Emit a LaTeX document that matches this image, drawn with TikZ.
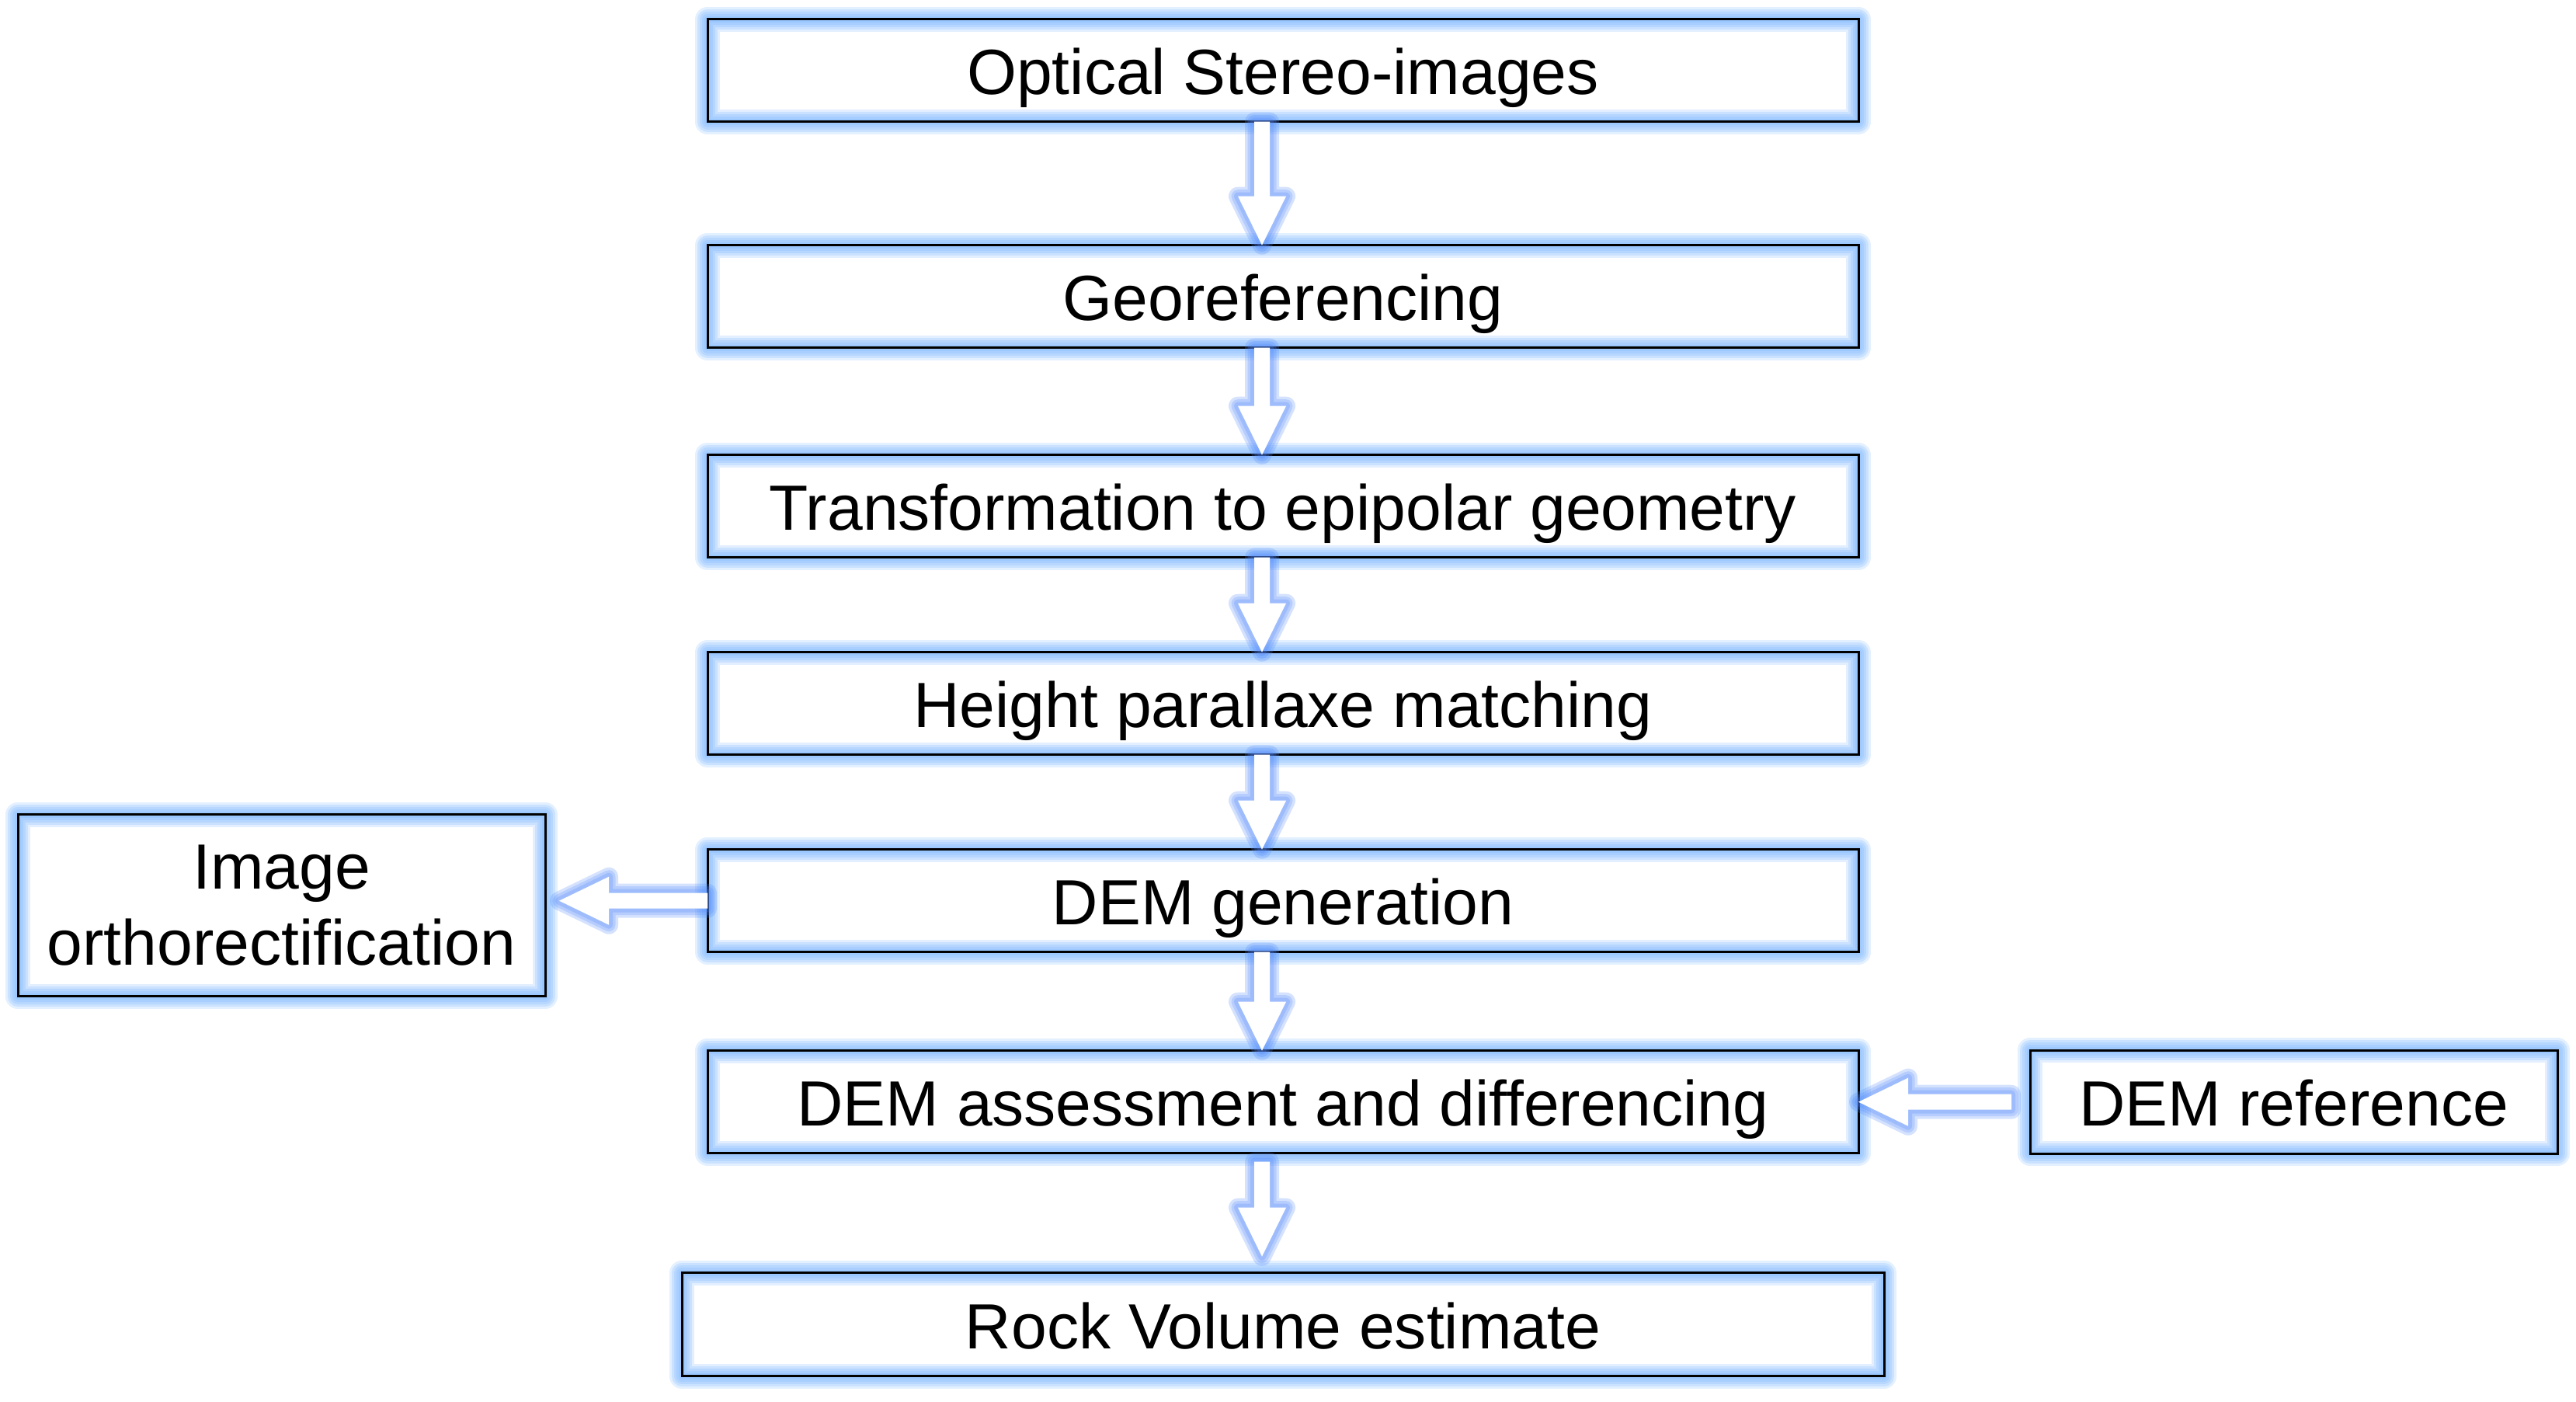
\documentclass[tikz,border=0pt]{standalone}
\usepackage{fontspec}
\setmainfont{Liberation Sans}
\usepackage{tikz}
\usetikzlibrary{calc}
\definecolor{boxglow}{RGB}{115,178,255}
\definecolor{flowglow}{RGB}{80,135,250}
% vertical block arrow: tail, tip
\newcommand{\vflow}[2]{%
  \path[flowarr]($(#1)+(-1mm,0)$)--($(#2)+(-1mm,6.3mm)$)--($(#2)+(-3.1mm,6.3mm)$)--(#2)
    --($(#2)+(3.1mm,6.3mm)$)--($(#2)+(1mm,6.3mm)$)--($(#1)+(1mm,0)$)--cycle;}
% leftward block arrow: tail, tip
\newcommand{\hflow}[2]{%
  \path[flowarr]($(#1)+(0,1mm)$)--($(#2)+(6.4mm,1mm)$)--($(#2)+(6.4mm,3.1mm)$)--(#2)
    --($(#2)+(6.4mm,-3.1mm)$)--($(#2)+(6.4mm,-1mm)$)--($(#1)+(0,-1mm)$)--cycle;}

\begin{document}
\begin{tikzpicture}[
  every node/.style={inner sep=0pt,outer sep=0pt},
  box/.style={draw=black,line width=0.3mm,align=center,
    minimum width=148.2mm,minimum height=13.2mm,
    text height=17.6pt,text depth=0pt,
    font=\fontsize{23.4}{28}\selectfont,
    preaction={fill=white},
    preaction={draw=boxglow,draw opacity=.2,line width=3.2mm,line join=round},
    preaction={draw=boxglow,draw opacity=.22,line width=2.6mm,line join=round},
    preaction={draw=boxglow,draw opacity=.22,line width=2.0mm,line join=round},
    preaction={draw=boxglow,draw opacity=.22,line width=1.4mm,line join=round},
    preaction={draw=boxglow,draw opacity=.22,line width=0.8mm,line join=round}},
  flowarr/.style={
    preaction={draw=flowglow,draw opacity=.24,line width=2.4mm,line join=round},
    preaction={draw=flowglow,draw opacity=.24,line width=1.7mm,line join=round},
    preaction={draw=flowglow,draw opacity=.24,line width=1.0mm,line join=round},
    fill=white},
]
\useasboundingbox(0,0)rectangle(331.7mm,-180.4mm);

\node[box](B1)at(165.2mm,-9.07mm){Optical Stereo-images};
\node[box,anchor=north](B2)at([yshift=-15.9mm]B1.south){Georeferencing};
\node[box,anchor=north](B3)at([yshift=-13.8mm]B2.south){Transformation to epipolar geometry};
\node[box,anchor=north](B4)at([yshift=-12.2mm]B3.south){Height parallaxe matching};
\node[box,anchor=north](B5)at([yshift=-12.2mm]B4.south){DEM generation};
\node[box,anchor=north](B6)at([yshift=-12.7mm]B5.south){DEM assessment and differencing};
\node[box,anchor=north,minimum width=154.8mm,minimum height=13.3mm](B7)
  at([yshift=-15.4mm]B6.south){Rock Volume estimate};

\node[box,anchor=east,minimum width=67.9mm,minimum height=23.4mm,
  text height=,text depth=](BL)
  at([shift={(-20.9mm,-0.6mm)}]B5.west){Image\\orthorectification};
\node[box,anchor=west,minimum width=67.9mm,minimum height=13.3mm](BR)
  at([xshift=22.1mm]B6.east){DEM reference};

\vflow{[xshift=-2.7mm]B1.south}{[xshift=-2.7mm]B2.north}
\vflow{[xshift=-2.7mm]B2.south}{[xshift=-2.7mm]B3.north}
\vflow{[xshift=-2.7mm]B3.south}{[xshift=-2.7mm]B4.north}
\vflow{[xshift=-2.7mm]B4.south}{[xshift=-2.7mm]B5.north}
\vflow{[xshift=-2.7mm]B5.south}{[xshift=-2.7mm]B6.north}
\vflow{[shift={(-2.7mm,-1.1mm)}]B6.south}{[shift={(-2.7mm,2.1mm)}]B7.north}

\hflow{B5.west}{[xshift=-19.1mm]B5.west}
\hflow{[xshift=19.7mm]B6.east}{B6.east}
\end{tikzpicture}
\end{document}
